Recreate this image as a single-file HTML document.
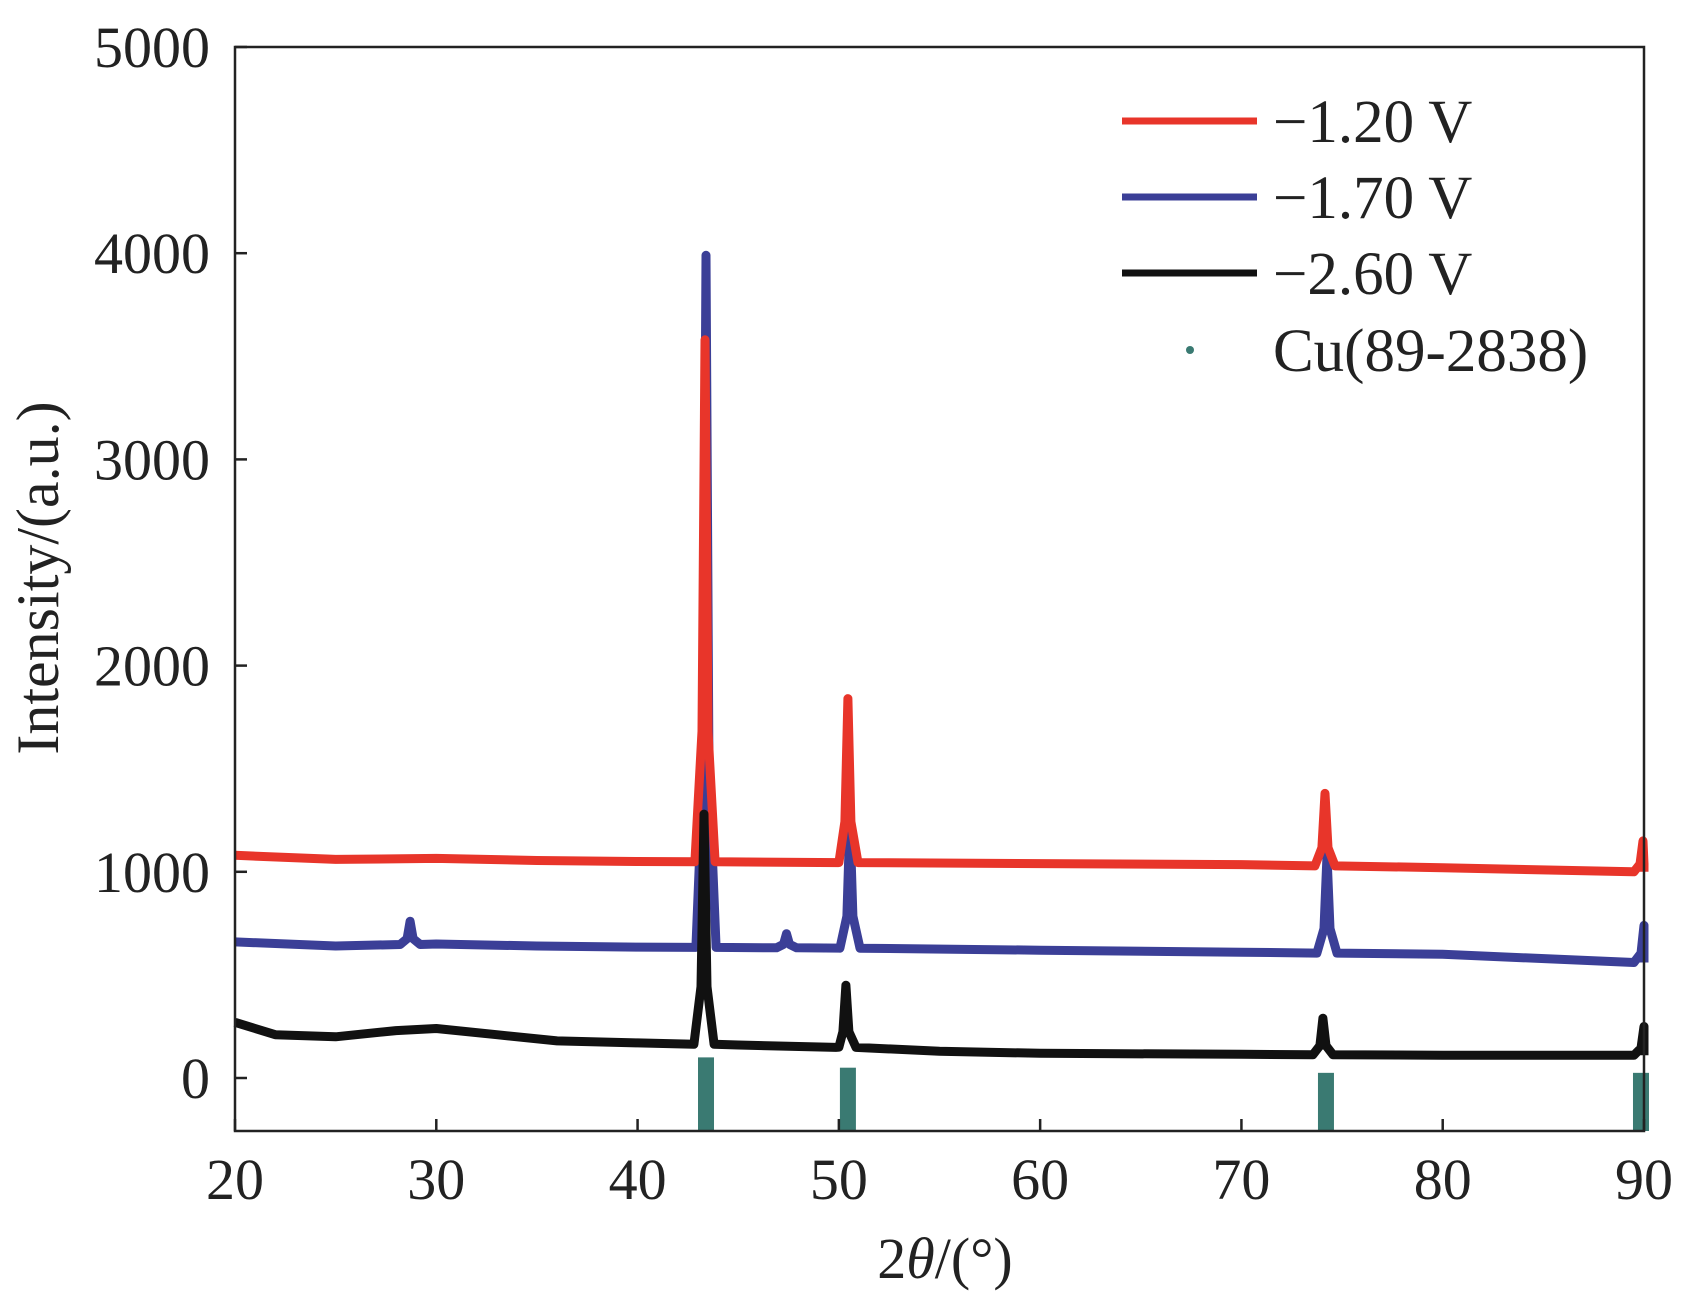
<!DOCTYPE html>
<html><head><meta charset="utf-8"><style>
html,body{margin:0;padding:0;background:#fff}
svg{display:block;font-family:"Liberation Serif",serif}
</style></head><body>
<svg id="chart" width="1695" height="1299"></svg>
<script>
const xTicks=[20,30,40,50,60,70,80,90];
const yTicks=[0,1000,2000,3000,4000,5000];
const seriesNames=["−1.20 V","−1.70 V","−2.60 V"];
const seriesColors=["#e8352a","#3b3f97","#111111"];
const redBase=[[20,1080],[25,1060],[30,1065],[35,1055],[40,1050],[50,1045],[60,1040],[70,1035],[80,1020],[89.5,1000]];
const redPeaks=[[43.35,3580],[50.45,1840],[74.15,1380],[89.95,1150]];
const blueBase=[[20,660],[25,640],[30,650],[35,640],[40,635],[50,630],[60,620],[70,610],[80,600],[89.5,560]];
const bluePeaks=[[28.7,760],[43.4,3990],[47.4,700],[50.55,1250],[74.25,1080],[90,740]];
const blackBase=[[20,270],[22,210],[25,200],[28,230],[30,240],[33,210],[36,180],[40,170],[45,160],[50,150],[55,130],[60,120],[70,115],[80,110],[89.5,110]];
const blackPeaks=[[43.3,1280],[50.35,450],[74.05,290],[90,250]];
const refPos=[43.4,50.45,74.2,89.85];
const refInt=[100,50,25,25];

const svg=document.getElementById('chart');
const NS='http://www.w3.org/2000/svg';
const L=235,R=1644,T=47,B=1131;
const X=v=>L+(v-20)/70*(R-L);
const Y=v=>1078-v*0.2062;
function mk(tag,attrs,parent){const e=document.createElementNS(NS,tag);for(const k in attrs)e.setAttribute(k,attrs[k]);(parent||svg).appendChild(e);return e;}

function buildPts(base,peaks){
  const pts=base.map(p=>p.slice());
  const baseAt=x=>{for(let i=0;i<base.length-1;i++){if(x>=base[i][0]&&x<=base[i+1][0]){const t=(x-base[i][0])/(base[i+1][0]-base[i][0]);return base[i][1]+t*(base[i+1][1]-base[i][1]);}}return base[base.length-1][1];};
  peaks.forEach(p=>{const b=baseAt(p[0]);pts.push([p[0]-0.5,b],[p[0]-0.15,b+(p[1]-b)*0.25],[p[0],p[1]],[Math.min(90,p[0]+0.15),b+(p[1]-b)*0.25],[Math.min(90,p[0]+0.5),b]);});
  pts.sort((a,b)=>a[0]-b[0]);
  return pts.filter(p=>p[0]<=90);
}
refPos.forEach((p,i)=>{
  const r=mk('rect',{x:X(p)-8,y:Y(refInt[i]),width:16,height:B-Y(refInt[i]),fill:'#3a7a72'});
  
  
});
const sets=[[blueBase,bluePeaks,1],[redBase,redPeaks,0],[blackBase,blackPeaks,2]];
sets.forEach(s=>{
  const pts=buildPts(s[0],s[1]);
  const path=mk('path',{d:'M'+pts.map(p=>X(p[0]).toFixed(1)+','+Y(p[1]).toFixed(1)).join(' L'),fill:'none',stroke:seriesColors[s[2]],'stroke-width':9,'stroke-linejoin':'round'});
  
  
});
const fr=mk('rect',{x:L,y:T,width:R-L,height:B-T,fill:'none',stroke:'#222','stroke-width':2.5});


xTicks.forEach(t=>{
  mk('line',{x1:X(t),x2:X(t),y1:B,y2:B-12,stroke:'#222','stroke-width':2.5});
  const tx=mk('text',{x:X(t),y:1199,'font-size':58,'text-anchor':'middle',fill:'#222'});tx.textContent=t;
  
  
});
yTicks.forEach(t=>{
  mk('line',{x1:L,x2:L+12,y1:Y(t),y2:Y(t),stroke:'#222','stroke-width':2.5});
  const tx=mk('text',{x:210,y:Y(t)+20,'font-size':58,'text-anchor':'end',fill:'#222'});tx.textContent=t;
  
  
});
const xt=mk('text',{x:945,y:1278,'font-size':58,'text-anchor':'middle',fill:'#222'});
xt.innerHTML='2<tspan font-style="italic">θ</tspan>/(°)';


const yt=mk('text',{x:0,y:0,'font-size':60,'text-anchor':'middle',fill:'#222',transform:'translate(58,578) rotate(-90)'});
yt.textContent='Intensity/(a.u.)';


const ly=[121,197,273];
seriesNames.forEach((n,i)=>{
  const ln=mk('line',{x1:1122,x2:1257,y1:ly[i],y2:ly[i],stroke:seriesColors[i],'stroke-width':7});
  
  
  const tx=mk('text',{x:1273,y:ly[i]+21,'font-size':61,fill:'#222'});tx.textContent=n;
  
  
});
const dot=mk('circle',{cx:1190,cy:350,r:4,fill:'#3a7a72'});


const ct=mk('text',{x:1273,y:371,'font-size':61,fill:'#222'});ct.textContent='Cu(89-2838)';


</script>
</body></html>
